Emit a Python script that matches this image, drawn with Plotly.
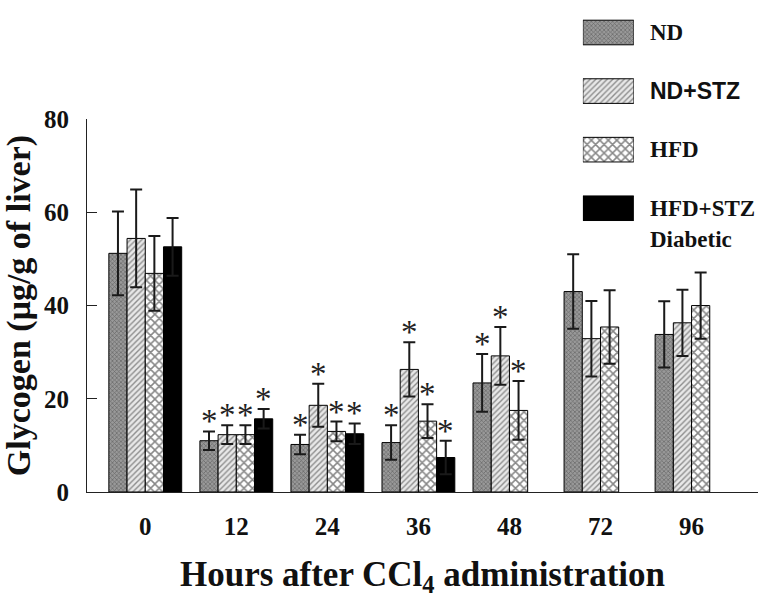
import plotly.graph_objects as go

hours = ["0", "12", "24", "36", "48", "72", "96"]
series_names = ["ND", "ND+STZ", "HFD", "HFD+STZ"]

nd = [51.2, 11.0, 10.2, 10.6, 23.4, 43.0, 33.8]
nd_err = [9.0, 2.0, 2.1, 3.7, 6.2, 8.0, 7.1]
nd_stz = [54.4, 12.3, 18.6, 26.3, 29.2, 32.9, 36.3]
nd_stz_err = [10.5, 2.0, 4.6, 5.8, 6.2, 8.1, 7.1]
hfd = [46.9, 12.3, 13.0, 15.2, 17.5, 35.4, 40.0]
hfd_err = [8.0, 2.0, 2.1, 3.6, 6.3, 7.9, 7.1]
hfd_stz = [52.6, 15.7, 12.5, 7.4, None, None, None]
hfd_stz_err = [6.2, 2.1, 2.2, 3.6, None, None, None]

# significance (*) vs time 0
sig_nd = [False, True, True, True, True, False, False]
sig_nd_stz = [False, True, True, True, True, False, False]
sig_hfd = [False, True, True, True, True, False, False]
sig_hfd_stz = [False, True, True, True, False, False, False]

values = [nd, nd_stz, hfd, hfd_stz]
errors = [nd_err, nd_stz_err, hfd_err, hfd_stz_err]
sigs = [sig_nd, sig_nd_stz, sig_hfd, sig_hfd_stz]

styles = [
    dict(color="#8c8c8c", pattern=dict(shape="x", size=3, solidity=0.4, fgcolor="#333333", bgcolor="#999999")),
    dict(color="#e0e0e0", pattern=dict(shape="/", size=4, solidity=0.35, fgcolor="#333333", bgcolor="#e8e8e8")),
    dict(color="white", pattern=dict(shape="x", size=6, solidity=0.45, fgcolor="#111111", bgcolor="white")),
    dict(color="black"),
]

serif = "Liberation Serif"
sans = "Liberation Sans"

fig = go.Figure()
for name, vals, errs, st in zip(series_names, values, errors, styles):
    fig.add_trace(go.Bar(
        x=hours, y=vals, name=name,
        marker=dict(line=dict(color="black", width=1), **st),
        error_y=dict(type="data", array=errs, visible=True, color="#1a1a1a", thickness=2, width=6),
        showlegend=False,
    ))

# significance stars
offsets = [-0.3, -0.1, 0.1, 0.3]
for j, (vals, errs, sg) in enumerate(zip(values, errors, sigs)):
    for i, (v, e, s) in enumerate(zip(vals, errs, sg)):
        if s and v is not None:
            fig.add_annotation(x=i + offsets[j], y=v + e, xref="x", yref="y",
                               text="*", showarrow=False, yanchor="bottom",
                               yshift=-10, font=dict(family=serif, size=33, color="#222"))

# legend drawn as patches on a hidden axis pair
for k, (name, st) in enumerate(zip(series_names, styles)):
    fig.add_trace(go.Bar(
        x=[1], y=[k], orientation="h", width=0.42, xaxis="x2", yaxis="y2",
        marker=dict(line=dict(color="black", width=1), **st),
        showlegend=False, hoverinfo="skip",
    ))
    fig.add_annotation(x=0.836, y=k, xref="paper", yref="y2", text="<b>%s</b>" % name,
                       showarrow=False, xanchor="left", yanchor="middle",
                       font=dict(family=sans if name == "ND+STZ" else serif, size=23, color="#111"))
fig.add_annotation(x=0.836, y=3, xref="paper", yref="y2", text="<b>Diabetic</b>",
                   showarrow=False, xanchor="left", yanchor="middle", yshift=-31,
                   font=dict(family=serif, size=23, color="#111"))

fig.update_layout(
    width=759, height=598,
    margin=dict(l=87, r=1, t=0, b=106),
    paper_bgcolor="white", plot_bgcolor="white",
    barmode="group", bargap=0.2, bargroupgap=0,
    xaxis=dict(
        type="category", range=[-0.64, 6.73], domain=[0, 1],
        showline=True, linecolor="#222", linewidth=1, ticks="", showgrid=False, zeroline=False,
        tickfont=dict(family=serif, size=25, color="#111", weight="bold"), ticklabelstandoff=12,
        title=dict(text="<b>Hours after CCl<sub>4</sub> administration</b>",
                   font=dict(family=serif, size=35, color="#111"), standoff=22),
    ),
    yaxis=dict(
        range=[0, 80], domain=[0, 0.7785], tickvals=[0, 20, 40, 60, 80],
        showline=True, linecolor="#222", linewidth=1, ticks="inside", ticklen=10,
        tickcolor="#222", tickwidth=1, showgrid=False, zeroline=False,
        tickfont=dict(family=serif, size=25, color="#111", weight="bold"), ticklabelstandoff=12,
        title=dict(text="<b>Glycogen (μg/g of liver)</b>",
                   font=dict(family=serif, size=34, color="#111"), standoff=8),
    ),
    xaxis2=dict(domain=[0.739, 0.815], range=[0, 1], anchor="y2", visible=False, fixedrange=True),
    yaxis2=dict(domain=[0.5325, 1], range=[3.49, -0.333], anchor="x2", visible=False, fixedrange=True),
)

fig.write_html("out.html")
